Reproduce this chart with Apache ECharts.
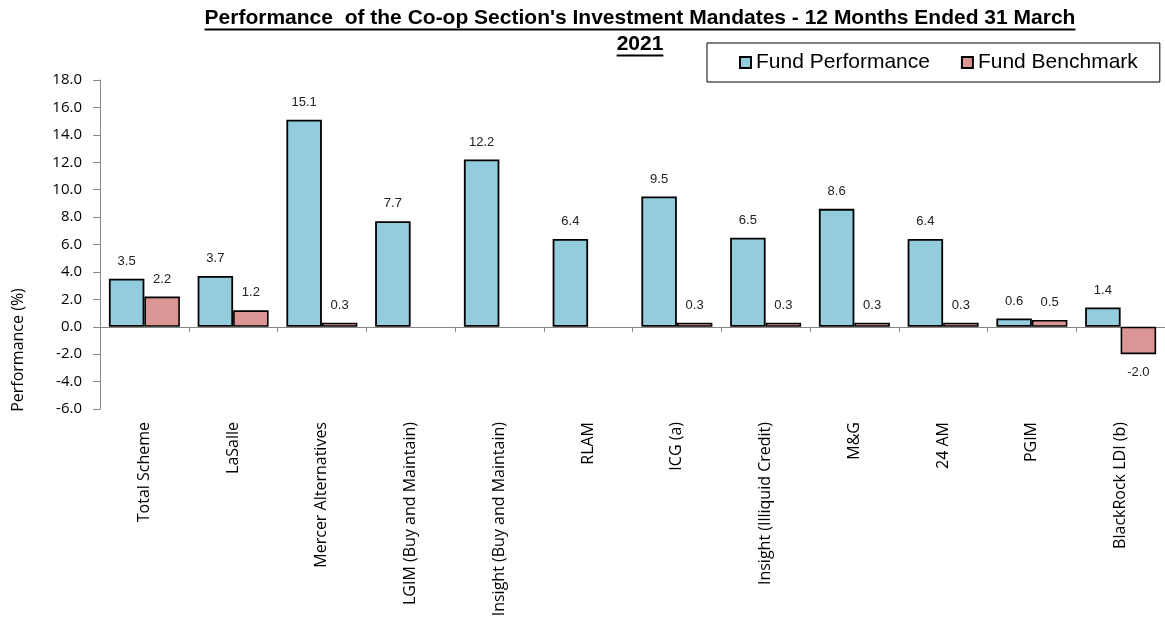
<!DOCTYPE html>
<html>
<head>
<meta charset="utf-8">
<script src="https://cdn.jsdelivr.net/npm/echarts@6/dist/echarts.min.js"></script>
<style>html,body{margin:0;padding:0;background:#fff}#c{width:1165px;height:622px}</style>
</head>
<body>
<div id="c"></div>
<script>
var categories = ["Total Scheme","LaSalle","Mercer Alternatives","LGIM (Buy and Maintain)","Insight (Buy and Maintain)","RLAM","ICG (a)","Insight (Illiquid Credit)","M&G","24 AM","PGIM","BlackRock LDI (b)"];
var fundPerformance = [3.5,3.7,15.1,7.7,12.2,6.4,9.5,6.5,8.6,6.4,0.6,1.4];
var fundBenchmark = [2.2,1.2,0.3,null,null,null,0.3,0.3,0.3,0.3,0.5,-2.0];
var titleLines = ["Performance  of the Co-op Section's Investment Mandates - 12 Months Ended 31 March","2021"];
var seriesNames = ["Fund Performance","Fund Benchmark"];
var yAxisName = "Performance (%)";

var titleFont = "bold 21px 'Liberation Sans', Arial, sans-serif";
function textWidth(t, font){
  var c = document.createElement('canvas').getContext('2d');
  c.font = font; return c.measureText(t).width;
}
var cx = 640;
var w1 = textWidth(titleLines[0], titleFont), w2 = textWidth(titleLines[1], titleFont);

function mk(arr){
  return arr.map(function(v){
    if (v === null) return null;
    return v < 0 ? {value:v, label:{position:'bottom', distance:12}} : v;
  });
}
var labelStyle = {show:true, position:'top', distance:11, fontFamily:"'Liberation Sans', Arial, sans-serif", fontSize:13, color:'#222',
  formatter:function(p){ return p.value == null ? '' : Number(p.value).toFixed(1); }};

var chart = echarts.init(document.getElementById('c'), null, {renderer:'canvas'});
chart.setOption({
  animation:false,
  backgroundColor:'#fff',
  title:{
    text: titleLines.join('\n'), left: cx, top: 5, textAlign:'center', padding:0,
    textStyle:{fontFamily:"'Liberation Sans', Arial, sans-serif", fontWeight:'bold', fontSize:21, lineHeight:26, color:'#000'}
  },
  legend:{
    data: seriesNames, left:707, top:43, orient:'horizontal',
    padding:[9,22,9,32], itemGap:31, itemWidth:11, itemHeight:11, icon:'rect',
    borderColor:'#000', borderWidth:1, backgroundColor:'#fff',
    textStyle:{fontFamily:"'Liberation Sans', Arial, sans-serif", fontSize:21, color:'#000'}
  },
  grid:{left:100, top:80, width:1068, height:329, containLabel:false},
  xAxis:[
    {type:'category', data:categories, position:'bottom',
     axisLine:{show:false, onZero:false}, axisTick:{show:false},
     axisLabel:{rotate:90, margin:13, interval:0, fontFamily:"'Open Sans', sans-serif", fontSize:16, color:'#000'}},
    {type:'category', data:categories, position:'bottom',
     axisLine:{show:true, onZero:true, lineStyle:{color:'#868686', width:1}},
     axisTick:{show:true, length:5, interval:0, lineStyle:{color:'#868686'}},
     axisLabel:{show:false}}
  ],
  yAxis:{type:'value', min:-6, max:18, interval:2,
    axisLine:{show:true, lineStyle:{color:'#868686'}},
    axisTick:{show:true, length:7, lineStyle:{color:'#868686'}},
    splitLine:{show:false},
    axisLabel:{margin:18, fontFamily:"'Open Sans', sans-serif", fontSize:15, color:'#000', formatter:function(v){return v.toFixed(1);}}
  },
  series:[
    {name:seriesNames[0], type:'bar', xAxisIndex:0, data:mk(fundPerformance), barGap:'0%', barCategoryGap:'20%',
     itemStyle:{color:'#93CDDD', borderColor:'#000', borderWidth:1.8}, label:labelStyle},
    {name:seriesNames[1], type:'bar', xAxisIndex:0, data:mk(fundBenchmark), barGap:'0%', barCategoryGap:'20%',
     itemStyle:{color:'#D99694', borderColor:'#000', borderWidth:1.6}, label:labelStyle}
  ],
  graphic:[
    {type:'line', shape:{x1:cx-w1/2, y1:29.5, x2:cx+w1/2, y2:29.5}, style:{stroke:'#000', lineWidth:2}},
    {type:'line', shape:{x1:cx-w2/2, y1:55.5, x2:cx+w2/2, y2:55.5}, style:{stroke:'#000', lineWidth:2}},
    {type:'text', x:18, y:350, rotation:Math.PI/2,
     style:{text:yAxisName, fontFamily:"'Open Sans', sans-serif", fontSize:16, fill:'#000', textAlign:'center', textVerticalAlign:'middle'}}
  ]
});
</script>
</body>
</html>
